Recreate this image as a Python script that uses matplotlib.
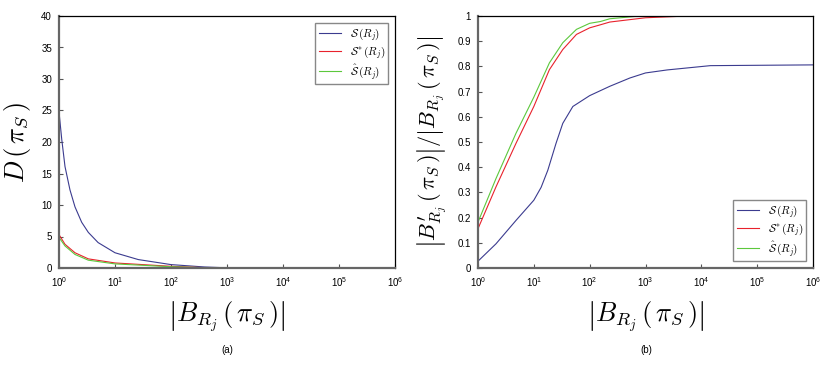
import numpy as np
import matplotlib.pyplot as plt

plt.rcParams['mathtext.fontset'] = 'cm'
plt.rcParams['font.family'] = ['Liberation Sans', 'DejaVu Sans']

# (a) D(pi_S) versus |B_Rj(pi_S)|
xa_s = [1, 1.12, 1.28, 1.57, 1.93, 2.54, 3.34, 5.0, 10, 26, 100, 400, 1000, 1e6]
d_s = [24.8, 20.4, 16.1, 12.4, 9.7, 7.26, 5.65, 4.03, 2.42, 1.34, 0.54, 0.16, 0.03, 0]
xa = [1, 1.28, 1.93, 3.34, 10, 100, 400, 1000, 1e6]
d_star = [5.3, 3.76, 2.42, 1.45, 0.8, 0.27, 0.05, 0.01, 0]
d_hat = [4.85, 3.5, 2.15, 1.24, 0.65, 0.2, 0.05, 0.01, 0]

# (b) ratio versus |B_Rj(pi_S)|
xb = [1, 2.1, 4.8, 10, 13.5, 17.8, 25, 33, 50, 100, 229, 525, 1000, 2450, 14500, 1e6]
r_s = [0.027, 0.096, 0.189, 0.269, 0.32, 0.388, 0.495, 0.574, 0.641, 0.684,
       0.721, 0.754, 0.774, 0.786, 0.803, 0.806]
xb_star = [1, 2.1, 4.8, 10, 19, 33, 58, 100, 155, 229, 1000, 5600]
r_star = [0.156, 0.322, 0.495, 0.641, 0.787, 0.867, 0.927, 0.953, 0.965, 0.976, 0.993, 1.0]
xb_hat = [1, 2.1, 4.8, 10, 19, 33, 58, 100, 155, 229, 700, 1000]
r_hat = [0.182, 0.355, 0.535, 0.678, 0.814, 0.894, 0.947, 0.971, 0.978, 0.989, 0.999, 1.0]

labels = [r'$\mathcal{S}\,(R_j)$', r'$\mathcal{S}^{*}\,(R_j)$',
          r'$\hat{\mathcal{S}}\,(R_j)$']
colors = ['#3b3b8f', '#e8222c', '#5cc83c']
xlab = r'$\left|B_{R_j}\,(\,\pi_S\,)\right|$'

fig = plt.figure(figsize=(8.3, 3.68), dpi=100)
ax1 = fig.add_axes([59/830, 1 - 268/368, 336/830, 252/368])
ax2 = fig.add_axes([478/830, 1 - 268/368, 335/830, 252/368])

ax1.plot(xa_s, d_s, color=colors[0], lw=0.8, label=labels[0])
ax1.plot(xa, d_star, color=colors[1], lw=0.8, label=labels[1])
ax1.plot(xa, d_hat, color=colors[2], lw=0.8, label=labels[2])
ax2.plot(xb, r_s, color=colors[0], lw=0.8, label=labels[0])
ax2.plot(xb_star, r_star, color=colors[1], lw=0.8, label=labels[1])
ax2.plot(xb_hat, r_hat, color=colors[2], lw=0.8, label=labels[2])

for ax in (ax1, ax2):
    ax.set_xscale('log')
    ax.set_xlim(1, 1e6)
    ax.set_xticks([10**k for k in range(7)])
    ax.minorticks_off()
    ax.tick_params(direction='in', labelsize=7, length=3, color='#555555', pad=5)
    ax.set_xlabel(xlab, fontsize=19, labelpad=8)
    for s in ('left', 'bottom'):
        ax.spines[s].set_color('#666666')
        ax.spines[s].set_linewidth(1.6)
    for s in ('top', 'right'):
        ax.spines[s].set_linewidth(0.9)

ax1.set_ylim(0, 40)
ax1.set_yticks(range(0, 41, 5))
ax1.set_ylabel(r'$D\,(\,\pi_S\,)$', fontsize=19, labelpad=6)
ax1.legend(loc='upper right', fontsize=8, fancybox=False, edgecolor='#888888',
           handlelength=2.0, borderpad=0.3, labelspacing=0.1, framealpha=1,
           borderaxespad=0.6)

ax2.set_ylim(0, 1)
ax2.set_yticks(np.arange(0, 1.01, 0.1))
ax2.set_yticklabels(['0', '0.1', '0.2', '0.3', '0.4', '0.5', '0.6', '0.7', '0.8', '0.9', '1'])
ax2.set_ylabel(r'$\left|B^{\prime}_{R_j}\,(\,\pi_S\,)\right|/\left|B_{R_j}\,(\,\pi_S\,)\right|$',
               fontsize=16, labelpad=6)
ax2.legend(loc='lower right', fontsize=8, fancybox=False, edgecolor='#888888',
           handlelength=2.0, borderpad=0.3, labelspacing=0.1, framealpha=1,
           borderaxespad=0.6)

fig.text(227/830, 1 - 350/368, '(a)', ha='center', va='center', fontsize=7)
fig.text(646/830, 1 - 350/368, '(b)', ha='center', va='center', fontsize=7)

fig.savefig('out.png', dpi=100)
